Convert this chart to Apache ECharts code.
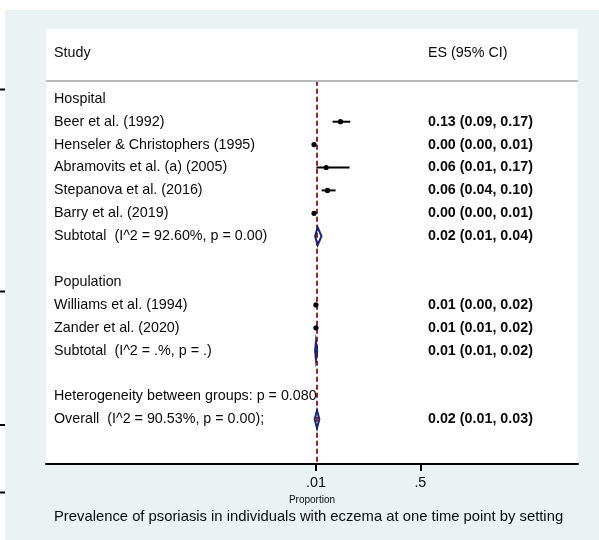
<!DOCTYPE html>
<html>
<head>
<meta charset="utf-8">
<script src="https://cdn.jsdelivr.net/npm/echarts@6/dist/echarts.min.js"></script>
<style>
  html, body { margin: 0; padding: 0; background: #fff; }
  #main { width: 599px; height: 540px; }
</style>
</head>
<body>
<div id="main"></div>
<script>
// forest plot: prevalence of psoriasis in eczema, by setting ----------------------------
var headers = ['Study', 'ES (95% CI)'];
var rowLabels = [
    'Hospital',
    'Beer et al. (1992)',
    'Henseler & Christophers (1995)',
    'Abramovits et al. (a) (2005)',
    'Stepanova et al. (2016)',
    'Barry et al. (2019)',
    'Subtotal  (I^2 = 92.60%, p = 0.00)',
    '',
    'Population',
    'Williams et al. (1994)',
    'Zander et al. (2020)',
    'Subtotal  (I^2 = .%, p = .)',
    '',
    'Heterogeneity between groups: p = 0.080',
    'Overall  (I^2 = 90.53%, p = 0.00);'
];
var esLabels = [
    '', '0.13 (0.09, 0.17)', '0.00 (0.00, 0.01)', '0.06 (0.01, 0.17)', '0.06 (0.04, 0.10)',
    '0.00 (0.00, 0.01)', '0.02 (0.01, 0.04)', '', '', '0.01 (0.00, 0.02)',
    '0.01 (0.01, 0.02)', '0.01 (0.01, 0.02)', '', '', '0.02 (0.01, 0.03)'
];

// single studies
var studyRows = [1, 2, 3, 4, 5, 9, 10];
var studyES = [0.125, 0.001, 0.058, 0.064, 0.001, 0.010, 0.010];
var studyLo = [0.088, 0.000, 0.012, 0.037, 0.000, 0.004, 0.007];
var studyHi = [0.171, 0.006, 0.168, 0.102, 0.006, 0.018, 0.015];

// subtotals + overall (diamonds)
var pooledRows = [6, 11, 14];
var pooledES = [0.018, 0.010, 0.015];
var pooledLo = [0.006, 0.006, 0.004];
var pooledHi = [0.036, 0.016, 0.026];
var overallES = 0.015;

var tickValues = [0.01, 0.5];
var tickLabels = ['.01', '.5'];

var FONT = '"Liberation Sans", Arial, sans-serif';
var TXT = '#0a0a0a';
var SEP_ROW = -0.79;

var textData = [[-2, -1]];
rowLabels.forEach(function (l, i) { textData.push([i, i]); });

var studyData = studyRows.map(function (r, i) {
    return [studyES[i], r, studyLo[i], studyHi[i]];
});
var pooledData = pooledRows.map(function (r, i) {
    return [pooledES[i], r, pooledLo[i], pooledHi[i]];
});

var myChart = echarts.init(document.getElementById('main'));
var option = {
    backgroundColor: '#fff',
    animation: false,
    graphic: [
        { type: 'rect', z: -10, shape: { x: 5, y: 10, width: 594, height: 530 }, style: { fill: '#eaf2f3' } },
        // bits of the neighbouring figure at the left edge
        { type: 'line', shape: { x1: 0, y1: 89.5, x2: 5, y2: 89.5 }, style: { stroke: '#000', lineWidth: 2 } },
        { type: 'line', shape: { x1: 0, y1: 291.5, x2: 5, y2: 291.5 }, style: { stroke: '#000', lineWidth: 2 } },
        { type: 'line', shape: { x1: 0, y1: 425, x2: 5, y2: 425 }, style: { stroke: '#000', lineWidth: 2 } },
        { type: 'line', shape: { x1: 0, y1: 492.5, x2: 5, y2: 492.5 }, style: { stroke: '#000', lineWidth: 2 } }
    ],
    title: {
        text: 'Prevalence of psoriasis in individuals with eczema at one time point by setting',
        left: 54,
        top: 509,
        padding: 0,
        textStyle: { fontFamily: FONT, fontSize: 14.8, fontWeight: 'normal', color: TXT }
    },
    grid: {
        left: 46, right: 21, top: 29, bottom: 76,
        show: true, backgroundColor: '#fff', borderWidth: 0
    },
    xAxis: {
        type: 'value',
        min: -1.257,
        max: 1.24,
        name: 'Proportion',
        nameLocation: 'middle',
        nameGap: 27,
        nameTextStyle: { fontFamily: FONT, fontSize: 10, color: TXT },
        axisLine: { show: true, onZero: false, lineStyle: { color: '#000', width: 2 } },
        axisTick: { show: true, customValues: tickValues, length: 7, lineStyle: { color: '#000', width: 2 } },
        axisLabel: {
            customValues: tickValues,
            margin: 12,
            fontFamily: FONT, fontSize: 14.3, color: TXT,
            formatter: function (v) { return tickLabels[tickValues.indexOf(v)] || ''; }
        },
        splitLine: { show: false }
    },
    yAxis: {
        type: 'value',
        inverse: true,
        min: -3.05,
        max: 15.95,
        show: false
    },
    series: [
        {
            // header + row texts
            type: 'custom',
            data: textData,
            silent: true,
            z: 2,
            renderItem: function (params, api) {
                var row = api.value(0), idx = api.value(1);
                var y = api.coord([0, row])[1];
                var cs = params.coordSys;
                var left = idx < 0 ? headers[0] : rowLabels[idx];
                var right = idx < 0 ? headers[1] : esLabels[idx];
                return {
                    type: 'group',
                    children: [
                        { type: 'text', x: cs.x + 8, y: y, style: { text: left, fill: TXT, font: '14.3px ' + FONT, align: 'left', verticalAlign: 'middle' } },
                        { type: 'text', x: cs.x + 382, y: y, style: { text: right, fill: TXT, font: (idx < 0 ? '' : 'bold ') + '14.3px ' + FONT, align: 'left', verticalAlign: 'middle' } }
                    ]
                };
            },
            markLine: {
                silent: true,
                symbol: 'none',
                label: { show: false },
                data: [
                    [{ coord: [-1.257, SEP_ROW] }, { coord: [1.24, SEP_ROW] }]
                ],
                lineStyle: { color: '#b9b9b9', width: 2, type: 'solid' }
            }
        },
        {
            // reference line at overall estimate
            type: 'custom',
            data: [],
            z: 1,
            renderItem: function () { return null; },
            markLine: {
                silent: true,
                symbol: 'none',
                z: 1,
                label: { show: false },
                data: [
                    [{ coord: [overallES, SEP_ROW] }, { coord: [overallES, 15.95] }]
                ],
                lineStyle: { color: '#8c2a2a', width: 2, type: [5, 3] }
            }
        },
        {
            // study CI + point
            type: 'custom',
            data: studyData,
            z: 5,
            renderItem: function (params, api) {
                var p = api.coord([api.value(0), api.value(1)]);
                var lo = api.coord([api.value(2), api.value(1)]);
                var hi = api.coord([api.value(3), api.value(1)]);
                return {
                    type: 'group',
                    children: [
                        { type: 'line', shape: { x1: lo[0], y1: lo[1], x2: hi[0], y2: hi[1] }, style: { stroke: '#000', lineWidth: 2 } },
                        { type: 'circle', shape: { cx: p[0], cy: p[1], r: 2.6 }, style: { fill: '#000' } }
                    ]
                };
            }
        },
        {
            // pooled diamonds
            type: 'custom',
            data: pooledData,
            z: 5,
            renderItem: function (params, api) {
                var row = api.value(1);
                var top = api.coord([api.value(0), row - 0.39]);
                var bot = api.coord([api.value(0), row + 0.39]);
                var lo = api.coord([api.value(2), row]);
                var hi = api.coord([api.value(3), row]);
                return {
                    type: 'polygon',
                    shape: { points: [[lo[0], lo[1]], [top[0], top[1]], [hi[0], hi[1]], [bot[0], bot[1]]] },
                    style: { fill: 'rgba(255,255,255,0)', stroke: '#1a2470', lineWidth: 2 }
                };
            }
        }
    ]
};

option && myChart.setOption(option);
</script>
</body>
</html>
